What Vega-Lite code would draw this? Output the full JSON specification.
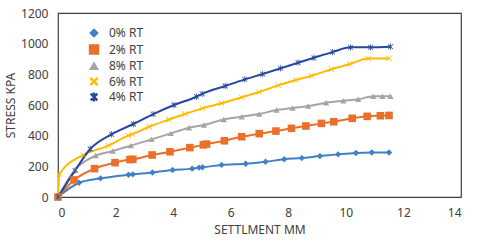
{
  "$schema": "https://vega.github.io/schema/vega-lite/v6.json",
  "width": 403,
  "height": 184,
  "autosize": {"type": "none"},
  "padding": {"left": 58, "top": 13, "right": 19, "bottom": 46},
  "background": "white",
  "config": {
    "font": "Noto Sans",
    "view": {"stroke": "#404040", "strokeWidth": 1.2},
    "axis": {"grid": false, "ticks": false, "domain": false, "labelColor": "#404040", "titleColor": "#404040", "labelFontSize": 12, "titleFontSize": 12, "titleFontWeight": "normal"}
  },
  "data": {"values": [
    {"s": "0% RT", "x": 0, "y": 0}, {"s": "0% RT", "x": 0.73, "y": 93}, {"s": "0% RT", "x": 1.48, "y": 122}, {"s": "0% RT", "x": 2.45, "y": 145}, {"s": "0% RT", "x": 2.6, "y": 148}, {"s": "0% RT", "x": 3.28, "y": 160}, {"s": "0% RT", "x": 3.98, "y": 176}, {"s": "0% RT", "x": 4.66, "y": 185}, {"s": "0% RT", "x": 4.9, "y": 192}, {"s": "0% RT", "x": 5.02, "y": 194}, {"s": "0% RT", "x": 5.68, "y": 209}, {"s": "0% RT", "x": 6.52, "y": 217}, {"s": "0% RT", "x": 7.21, "y": 230}, {"s": "0% RT", "x": 7.86, "y": 246}, {"s": "0% RT", "x": 8.47, "y": 254}, {"s": "0% RT", "x": 9.1, "y": 267}, {"s": "0% RT", "x": 9.73, "y": 278}, {"s": "0% RT", "x": 10.35, "y": 287}, {"s": "0% RT", "x": 10.9, "y": 290}, {"s": "0% RT", "x": 11.5, "y": 290},
    {"s": "2% RT", "x": 0, "y": 0}, {"s": "2% RT", "x": 0.56, "y": 111}, {"s": "2% RT", "x": 1.27, "y": 185}, {"s": "2% RT", "x": 1.98, "y": 224}, {"s": "2% RT", "x": 2.5, "y": 244}, {"s": "2% RT", "x": 2.6, "y": 246}, {"s": "2% RT", "x": 3.27, "y": 274}, {"s": "2% RT", "x": 3.89, "y": 295}, {"s": "2% RT", "x": 4.58, "y": 322}, {"s": "2% RT", "x": 5.05, "y": 340}, {"s": "2% RT", "x": 5.16, "y": 345}, {"s": "2% RT", "x": 5.78, "y": 367}, {"s": "2% RT", "x": 6.38, "y": 393}, {"s": "2% RT", "x": 6.99, "y": 413}, {"s": "2% RT", "x": 7.57, "y": 430}, {"s": "2% RT", "x": 8.11, "y": 448}, {"s": "2% RT", "x": 8.61, "y": 463}, {"s": "2% RT", "x": 9.15, "y": 480}, {"s": "2% RT", "x": 9.58, "y": 491}, {"s": "2% RT", "x": 10.22, "y": 513}, {"s": "2% RT", "x": 10.74, "y": 526}, {"s": "2% RT", "x": 11.2, "y": 530}, {"s": "2% RT", "x": 11.5, "y": 532},
    {"s": "8% RT", "x": 0, "y": 0}, {"s": "8% RT", "x": 0.6, "y": 180}, {"s": "8% RT", "x": 1.31, "y": 270}, {"s": "8% RT", "x": 1.9, "y": 300}, {"s": "8% RT", "x": 2.53, "y": 335}, {"s": "8% RT", "x": 3.25, "y": 376}, {"s": "8% RT", "x": 3.92, "y": 415}, {"s": "8% RT", "x": 4.55, "y": 452}, {"s": "8% RT", "x": 5.07, "y": 469}, {"s": "8% RT", "x": 5.76, "y": 506}, {"s": "8% RT", "x": 6.38, "y": 524}, {"s": "8% RT", "x": 6.99, "y": 541}, {"s": "8% RT", "x": 7.59, "y": 567}, {"s": "8% RT", "x": 8.15, "y": 580}, {"s": "8% RT", "x": 8.69, "y": 593}, {"s": "8% RT", "x": 9.31, "y": 615}, {"s": "8% RT", "x": 9.91, "y": 628}, {"s": "8% RT", "x": 10.43, "y": 637}, {"s": "8% RT", "x": 10.95, "y": 657}, {"s": "8% RT", "x": 11.27, "y": 657}, {"s": "8% RT", "x": 11.55, "y": 657},
    {"s": "6% RT", "x": 0, "y": 0}, {"s": "6% RT", "x": 0.05, "y": 150}, {"s": "6% RT", "x": 0.88, "y": 275}, {"s": "6% RT", "x": 1.75, "y": 335}, {"s": "6% RT", "x": 2.44, "y": 400}, {"s": "6% RT", "x": 2.59, "y": 410}, {"s": "6% RT", "x": 3.17, "y": 458}, {"s": "6% RT", "x": 3.86, "y": 505}, {"s": "6% RT", "x": 4.41, "y": 541}, {"s": "6% RT", "x": 5.02, "y": 578}, {"s": "6% RT", "x": 5.68, "y": 611}, {"s": "6% RT", "x": 6.38, "y": 650}, {"s": "6% RT", "x": 6.99, "y": 685}, {"s": "6% RT", "x": 7.65, "y": 728}, {"s": "6% RT", "x": 8.26, "y": 763}, {"s": "6% RT", "x": 8.81, "y": 791}, {"s": "6% RT", "x": 9.5, "y": 833}, {"s": "6% RT", "x": 10.14, "y": 867}, {"s": "6% RT", "x": 10.78, "y": 904}, {"s": "6% RT", "x": 11.5, "y": 904},
    {"s": "4% RT", "x": 0, "y": 0}, {"s": "4% RT", "x": 0.59, "y": 172}, {"s": "4% RT", "x": 1.12, "y": 313}, {"s": "4% RT", "x": 1.86, "y": 409}, {"s": "4% RT", "x": 2.62, "y": 476}, {"s": "4% RT", "x": 3.31, "y": 541}, {"s": "4% RT", "x": 4.03, "y": 600}, {"s": "4% RT", "x": 4.81, "y": 654}, {"s": "4% RT", "x": 5.01, "y": 672}, {"s": "4% RT", "x": 5.81, "y": 724}, {"s": "4% RT", "x": 6.49, "y": 767}, {"s": "4% RT", "x": 7.11, "y": 802}, {"s": "4% RT", "x": 7.73, "y": 839}, {"s": "4% RT", "x": 8.34, "y": 876}, {"s": "4% RT", "x": 8.89, "y": 908}, {"s": "4% RT", "x": 9.54, "y": 945}, {"s": "4% RT", "x": 10.16, "y": 976}, {"s": "4% RT", "x": 10.86, "y": 976}, {"s": "4% RT", "x": 11.55, "y": 980}
  ]},
  "encoding": {
    "x": {"field": "x", "type": "quantitative", "scale": {"domain": [0, 14], "nice": false}, "axis": {"values": [0, 2, 4, 6, 8, 10, 12, 14], "labelPadding": 10, "title": "SETTLMENT MM", "titlePadding": 6}},
    "y": {"field": "y", "type": "quantitative", "scale": {"domain": [0, 1200], "nice": false}, "axis": {"values": [0, 200, 400, 600, 800, 1000, 1200], "format": "d", "labelPadding": 10, "title": "STRESS KPA", "titlePadding": 3}}
  },
  "layer": [
    {
      "mark": {"type": "line", "interpolate": "monotone", "strokeWidth": 2},
      "encoding": {
        "color": {"field": "s", "type": "nominal", "scale": {"domain": ["0% RT", "2% RT", "8% RT", "6% RT", "4% RT"], "range": ["#3F80C6", "#E8702A", "#A5A5A5", "#FFBA00", "#25479E"]}, "legend": {"orient": "none", "legendX": 30, "legendY": 14, "title": null, "labelFontSize": 12, "labelColor": "#404040", "rowPadding": 1.5, "symbolSize": 55, "labelOffset": 9}}
      }
    },
    {
      "mark": {"type": "point", "filled": true, "opacity": 1, "size": 40},
      "encoding": {
        "color": {"field": "s", "type": "nominal"},
        "shape": {"field": "s", "type": "nominal", "scale": {"domain": ["0% RT", "2% RT", "8% RT", "6% RT", "4% RT"], "range": ["diamond", "M-1.2,-1.2H1.2V1.2H-1.2Z", "triangle-up", "M-0.765,-0.935L0.935,0.765L0.765,0.935L-0.935,-0.765ZM-0.935,0.765L0.765,-0.935L0.935,-0.765L-0.765,0.935Z", "M-0.12,-1H0.12V1H-0.12ZM-0.665,-0.835L0.835,0.665L0.665,0.835L-0.835,-0.665ZM-0.835,0.665L0.665,-0.835L0.835,-0.665L-0.665,0.835Z"]}, "legend": {"orient": "none", "legendX": 30, "legendY": 14, "title": null, "labelFontSize": 12, "labelColor": "#404040", "rowPadding": 1.5, "symbolSize": 55, "labelOffset": 9}}
      }
    }
  ]
}
